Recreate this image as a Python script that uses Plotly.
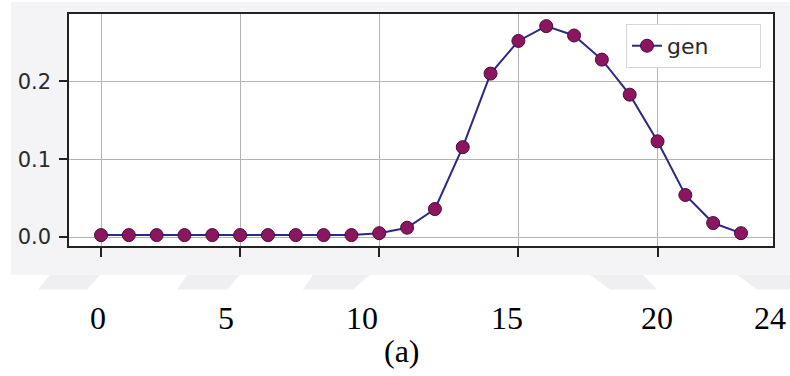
import plotly.graph_objects as go

# Hourly generation profile
hours = list(range(24))
gen = [0.0025, 0.0025, 0.0025, 0.0025, 0.0025, 0.0025, 0.0025, 0.0025, 0.0025, 0.0025,
       0.005, 0.012, 0.036, 0.1155, 0.210, 0.252, 0.271, 0.259, 0.228, 0.183,
       0.123, 0.054, 0.018, 0.005]

y_ticks = [0.0, 0.1, 0.2]
y_tick_text = ["0.0", "0.1", "0.2"]
x_ticks = [0, 5, 10, 15, 20]

# caption row under the chart
caption_labels = ["0", "5", "10", "15", "20", "24"]
caption_title = "(a)"

W, H = 790, 376
L, R, T, B = 69, 17, 12, 130
PW, PH = W - L - R, H - T - B


def px(x):
    return (x - L) / PW


def py(y):
    return (H - B - y) / PH


fig = go.Figure()
fig.add_trace(go.Scatter(
    x=hours, y=gen, mode="lines+markers", name="gen",
    line=dict(color="#2b2a88", width=2),
    marker=dict(size=13, color="#8c1560", line=dict(color="#4a0c3a", width=1)),
))

shapes = [
    # light grey band behind the axes
    dict(type="rect", xref="paper", yref="paper", x0=px(11), x1=px(W), y0=py(275), y1=py(0),
         fillcolor="#f4f4f6", line=dict(width=0), layer="below"),
    # white axes face
    dict(type="rect", xref="paper", yref="paper", x0=0, x1=1, y0=0, y1=1,
         fillcolor="#ffffff", line=dict(width=0), layer="below"),
]
# faint slanted tiles under the band
for (a, b, c, d) in [(50, 100, 38, 87), (187, 240, 177, 227), (313, 370, 303, 353),
                     (590, 643, 610, 657), (737, 790, 757, 790)]:
    shapes.append(dict(type="path", xref="paper", yref="paper",
                       path=f"M{px(a)},{py(275)} L{px(b)},{py(275)} L{px(d)},{py(290)} L{px(c)},{py(290)} Z",
                       fillcolor="#efeff1", line=dict(width=0), layer="below"))

annotations = []
caption_px = [98, 226, 362, 507, 657, 770]
for lab, xp in zip(caption_labels, caption_px):
    annotations.append(dict(text=lab, xref="paper", yref="paper", x=px(xp), y=py(319),
                            xanchor="center", yanchor="middle", showarrow=False,
                            font=dict(family="Liberation Serif", size=32, color="#000000")))
annotations.append(dict(text=caption_title, xref="paper", yref="paper", x=px(402), y=py(352),
                        xanchor="center", yanchor="middle", showarrow=False,
                        font=dict(family="Liberation Serif", size=32, color="#000000")))

fig.update_layout(
    width=W, height=H,
    margin=dict(l=L, r=R, t=T, b=B),
    paper_bgcolor="#ffffff", plot_bgcolor="rgba(0,0,0,0)",
    font=dict(family="DejaVu Sans", size=21, color="#2a2a2a"),
    shapes=shapes, annotations=annotations,
    showlegend=True,
    legend=dict(x=px(761), y=py(22), xanchor="right", yanchor="top",
                orientation="h", entrywidth=88, entrywidthmode="pixels",
                bgcolor="#ffffff", bordercolor="#d6d6d6", borderwidth=1,
                font=dict(family="DejaVu Sans", size=22, color="#2a2a2a")),
    xaxis=dict(range=[-1.15, 24.15], tickvals=x_ticks, showticklabels=False,
               ticks="outside", ticklen=9, tickcolor="#222222", tickwidth=1.5,
               showgrid=True, gridcolor="#b4b4b4", gridwidth=1,
               showline=True, linecolor="#222222", linewidth=1.5, mirror=True,
               zeroline=False),
    yaxis=dict(range=[-0.0115, 0.2866], tickvals=y_ticks, ticktext=y_tick_text,
               ticks="outside", ticklen=8, tickcolor="#222222", tickwidth=1.5,
               ticklabelstandoff=4,
               showgrid=True, gridcolor="#b4b4b4", gridwidth=1,
               showline=True, linecolor="#222222", linewidth=1.5, mirror=True,
               zeroline=False),
)

fig.write_html("out.html")
